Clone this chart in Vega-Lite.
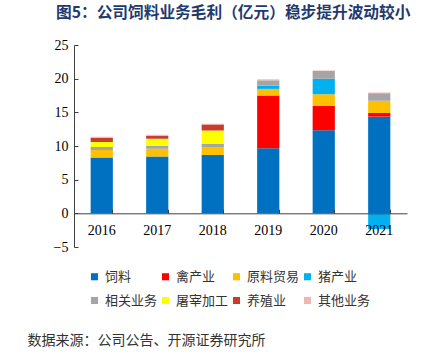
{
  "$schema": "https://vega.github.io/schema/vega-lite/v6.json",
  "width": 333,
  "height": 202,
  "autosize": "none",
  "padding": {"left": 74, "top": 45, "right": 36, "bottom": 110},
  "background": "white",
  "title": {
    "text": "图5：公司饲料业务毛利（亿元）稳步提升波动较小",
    "anchor": "start",
    "frame": "group",
    "dx": -18,
    "offset": 16,
    "font": "Noto Sans CJK SC",
    "fontSize": 15.7,
    "fontWeight": "bold",
    "color": "#1F3A6E"
  },
  "data": {
    "values": [
      {"year": "2016", "seg": "饲料", "v": 8.28},
      {"year": "2016", "seg": "原料贸易", "v": 1.13},
      {"year": "2016", "seg": "相关业务", "v": 0.44},
      {"year": "2016", "seg": "屠宰加工", "v": 0.74},
      {"year": "2016", "seg": "养殖业", "v": 0.64},
      {"year": "2016", "seg": "其他业务", "v": 0.14},
      {"year": "2017", "seg": "饲料", "v": 8.43},
      {"year": "2017", "seg": "原料贸易", "v": 1.18},
      {"year": "2017", "seg": "相关业务", "v": 0.39},
      {"year": "2017", "seg": "屠宰加工", "v": 1.08},
      {"year": "2017", "seg": "养殖业", "v": 0.44},
      {"year": "2017", "seg": "其他业务", "v": 0.15},
      {"year": "2018", "seg": "饲料", "v": 8.68},
      {"year": "2018", "seg": "原料贸易", "v": 1.18},
      {"year": "2018", "seg": "相关业务", "v": 0.44},
      {"year": "2018", "seg": "屠宰加工", "v": 2.01},
      {"year": "2018", "seg": "养殖业", "v": 0.88},
      {"year": "2018", "seg": "其他业务", "v": 0.10},
      {"year": "2019", "seg": "饲料", "v": 9.66},
      {"year": "2019", "seg": "禽产业", "v": 7.84},
      {"year": "2019", "seg": "原料贸易", "v": 0.98},
      {"year": "2019", "seg": "猪产业", "v": 0.49},
      {"year": "2019", "seg": "相关业务", "v": 0.78},
      {"year": "2019", "seg": "其他业务", "v": 0.15},
      {"year": "2020", "seg": "饲料", "v": 12.35},
      {"year": "2020", "seg": "禽产业", "v": 3.63},
      {"year": "2020", "seg": "原料贸易", "v": 1.72},
      {"year": "2020", "seg": "猪产业", "v": 2.30},
      {"year": "2020", "seg": "相关业务", "v": 1.13},
      {"year": "2020", "seg": "其他业务", "v": 0.10},
      {"year": "2021", "seg": "饲料", "v": 14.36},
      {"year": "2021", "seg": "禽产业", "v": 0.54},
      {"year": "2021", "seg": "原料贸易", "v": 1.82},
      {"year": "2021", "seg": "猪产业", "v": -2.35},
      {"year": "2021", "seg": "相关业务", "v": 1.12},
      {"year": "2021", "seg": "其他业务", "v": 0.10}
    ]
  },
  "transform": [
    {"calculate": "indexof(['饲料','禽产业','原料贸易','猪产业','相关业务','屠宰加工','养殖业','其他业务'], datum.seg)", "as": "k"}
  ],
  "mark": {"type": "bar"},
  "encoding": {
    "x": {
      "field": "year",
      "type": "nominal",
      "scale": {"paddingInner": 0.6, "paddingOuter": 0.3},
      "axis": {
        "title": "数据来源：公司公告、开源证券研究所",
        "titleX": -47,
        "titleY": 127,
        "titleAlign": "left",
        "titleBaseline": "middle",
        "titleFont": "Noto Sans CJK SC",
        "titleFontSize": 14,
        "titleFontWeight": "normal",
        "titleColor": "#333333",
        "offset": -33.7,
        "zindex": 1,
        "bandPosition": 1,
        "labelAngle": 0,
        "labelFont": "Liberation Serif",
        "labelFontSize": 14,
        "labelColor": "#000000",
        "labelPadding": 14,
        "tickSize": -4,
        "tickColor": "#404040",
        "domainColor": "#404040"
      }
    },
    "y": {
      "field": "v",
      "type": "quantitative",
      "stack": "zero",
      "scale": {"domain": [-5, 25], "nice": false},
      "axis": {
        "title": null,
        "values": [-5, 0, 5, 10, 15, 20, 25],
        "grid": false,
        "tickSize": -4,
        "tickColor": "#404040",
        "domainColor": "#404040",
        "labelFont": "Liberation Serif",
        "labelFontSize": 14,
        "labelColor": "#000000",
        "labelPadding": 10
      }
    },
    "order": {"field": "k", "type": "quantitative", "sort": "ascending"},
    "color": {
      "field": "seg",
      "type": "nominal",
      "scale": {
        "domain": ["饲料", "禽产业", "原料贸易", "猪产业", "相关业务", "屠宰加工", "养殖业", "其他业务"],
        "range": ["#0070C0", "#FF0000", "#FFC000", "#00B0F0", "#A5A5A5", "#FFFF00", "#C83C2C", "#EDB8B0"]
      },
      "legend": {
        "title": null,
        "orient": "none",
        "legendX": 14,
        "legendY": 225,
        "columns": 4,
        "direction": "horizontal",
        "gridAlign": "all",
        "symbolType": "square",
        "symbolSize": 50,
        "symbolStrokeWidth": 0,
        "labelFont": "Noto Sans CJK SC",
        "labelFontSize": 13,
        "labelColor": "#333333",
        "rowPadding": 10,
        "columnPadding": 1
      }
    }
  },
  "config": {
    "view": {"stroke": null}
  }
}
